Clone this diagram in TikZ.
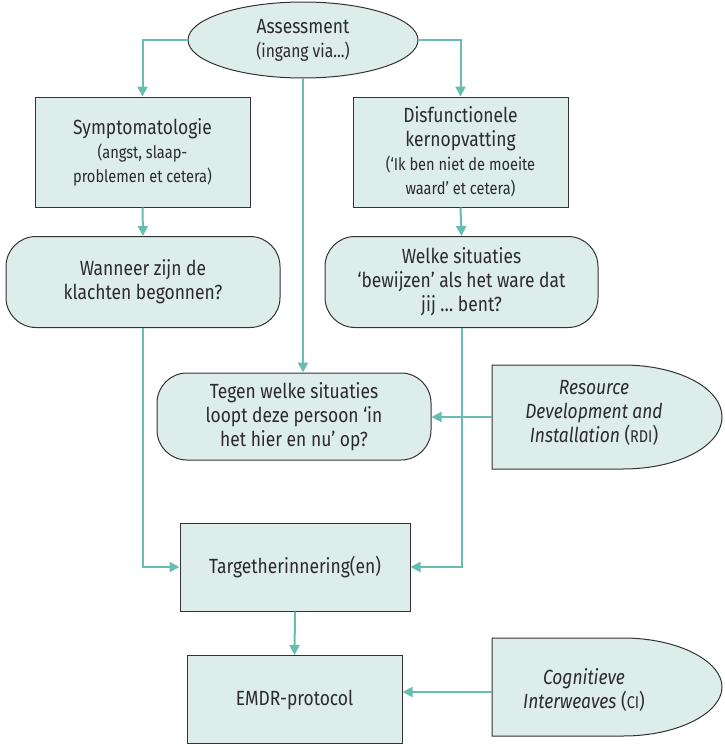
\documentclass[tikz,border=0pt]{standalone}
\usepackage{fontspec}
\setmainfont{Fira Sans}[FakeStretch=0.85]
\usetikzlibrary{shapes.geometric,arrows.meta}
\definecolor{boxfill}{HTML}{DDEDE9}
\definecolor{teal}{HTML}{67BDB0}
\definecolor{ink}{HTML}{2B2B2B}
\definecolor{edge}{HTML}{333333}
\newcommand{\mainsz}{\fontsize{20.5pt}{24pt}\selectfont}
\newcommand{\subsz}{\fontsize{17.2pt}{22.5pt}\selectfont}
\newcommand{\asssz}{\fontsize{18.4pt}{22.5pt}\selectfont}
\newcommand{\smc}[1]{{\fontsize{17pt}{17pt}\selectfont #1}}
\tikzset{
  base/.style={draw=edge, line width=1pt, fill=boxfill, text=ink, align=center, font=\mainsz, inner sep=0pt},
  rectbox/.style={base, rectangle},
  roundbox/.style={base, rectangle, rounded corners=30pt},
  ellbox/.style={base, ellipse},
  arr/.style={draw=teal, line width=2pt, -{Triangle[length=10pt,width=10pt]}},
  txt/.style={text=ink, align=center, font=\mainsz, inner sep=0pt},
  shapeline/.style={draw=edge, line width=1pt, fill=boxfill},
}
\begin{document}
\begin{tikzpicture}[x=1pt,y=-1pt]
\useasboundingbox (0,0) rectangle (724,744);
\fill[white] (0,0) rectangle (724,744);

\node[ellbox, minimum width=230pt, minimum height=76pt] (ass) at (303,40) {Assessment\\{\asssz (ingang via...)}};

\node[rectbox, minimum width=215pt, minimum height=110pt] (symp) at (142.5,152) {Symptomatologie\\{\subsz (angst, slaap-}\\{\subsz problemen et cetera)}};
\node[rectbox, minimum width=215pt, minimum height=110pt] (disf) at (460.5,152) {Disfunctionele\\kernopvatting\\{\subsz (‘Ik ben niet de moeite}\\{\subsz waard’ et cetera)}};

\node[roundbox, minimum width=274pt, minimum height=91pt] (wann) at (143,282) {Wanneer zijn de\\klachten begonnen?};
\node[roundbox, minimum width=273pt, minimum height=91pt] (welke) at (461.5,282) {Welke situaties\\‘bewijzen’ als het ware dat\\jij … bent?};

\node[roundbox, minimum width=274pt, minimum height=87pt] (tegen) at (294,416.5) {Tegen welke situaties\\loopt deze persoon ‘in\\het hier en nu’ op?};

\node[rectbox, minimum width=230pt, minimum height=88pt] (target) at (295,567) {Targetherinnering(en)};
\node[rectbox, minimum width=215pt, minimum height=88pt] (emdr) at (294.5,699.5) {EMDR-protocol};

% RDI shape
\draw[shapeline] (492,365) -- (623,365) .. controls (678,365) and (722,388) .. (722,417) .. controls (722,446) and (678,469) .. (623,469) -- (492,469) -- cycle;
\node[txt] (rdi) at (594,413) {\textit{Resource}\\\textit{Development and}\\\textit{Installation} (\smc{RDI})};
\coordinate (rdiw) at (492,417);

% CI shape
\draw[shapeline] (492,638) -- (623,638) .. controls (678,638) and (722,661) .. (722,687) .. controls (722,713) and (678,736) .. (623,736) -- (492,736) -- cycle;
\node[txt] (ci) at (584,690) {\textit{Cognitieve}\\\textit{Interweaves} (\smc{CI})};
\coordinate (ciw) at (492,692);

% connectors
\draw[arr] (ass.west) -| (symp.north);
\draw[arr] (ass.east) -| (disf.north);
\draw[arr] (ass.south) -- (ass.south |- tegen.north);
\draw[arr] (symp.south) -- (wann.north);
\draw[arr] (disf.south) -- (welke.north);
\draw[arr] (wann.south) |- (target.west);
\draw[arr] (welke.south) |- (target.east);
\draw[arr] (target.south) -- (emdr.north);
\draw[arr] (rdiw) -- (tegen.east |- rdiw);
\draw[arr] (ciw) -- (emdr.east |- ciw);
\end{tikzpicture}
\end{document}
